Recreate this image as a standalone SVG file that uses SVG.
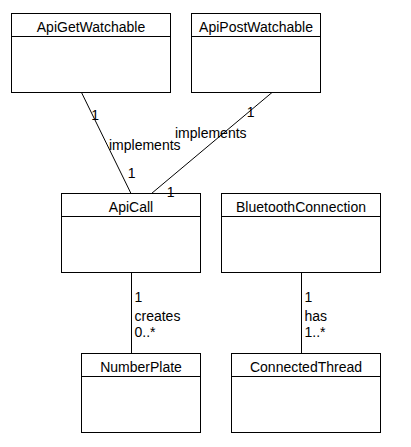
<svg xmlns="http://www.w3.org/2000/svg" width="411" height="447" viewBox="0 0 411 447">
<style>
.box{fill:#fff;stroke:#000;stroke-width:1}
.t{font-family:"Liberation Sans",Arial,sans-serif;font-size:14px;fill:#000}
.c{text-anchor:middle}
.ln{stroke:#000;stroke-width:1;fill:none}
</style>
<rect width="411" height="447" fill="#fff"/>
<g id="ApiGetWatchable">
<rect class="box" x="11.5" y="13.5" width="159" height="79"/>
<line class="ln" x1="11.5" y1="36.5" x2="170.5" y2="36.5"/>
<text class="t c" x="91" y="31.5">ApiGetWatchable</text>
</g>
<g id="ApiPostWatchable">
<rect class="box" x="191.5" y="13.5" width="129" height="79"/>
<line class="ln" x1="191.5" y1="36.5" x2="320.5" y2="36.5"/>
<text class="t c" x="256" y="31.5">ApiPostWatchable</text>
</g>
<g id="ApiCall">
<rect class="box" x="61.5" y="193.5" width="139" height="79"/>
<line class="ln" x1="61.5" y1="216.5" x2="200.5" y2="216.5"/>
<text class="t c" x="131" y="211.5">ApiCall</text>
</g>
<g id="BluetoothConnection">
<rect class="box" x="221.5" y="193.5" width="159" height="79"/>
<line class="ln" x1="221.5" y1="216.5" x2="380.5" y2="216.5"/>
<text class="t c" x="301" y="211.5">BluetoothConnection</text>
</g>
<g id="NumberPlate">
<rect class="box" x="81.5" y="353.5" width="119" height="79"/>
<line class="ln" x1="81.5" y1="376.5" x2="200.5" y2="376.5"/>
<text class="t c" x="141" y="371.5">NumberPlate</text>
</g>
<g id="ConnectedThread">
<rect class="box" x="231.5" y="353.5" width="149" height="79"/>
<line class="ln" x1="231.5" y1="376.5" x2="380.5" y2="376.5"/>
<text class="t c" x="306" y="371.5">ConnectedThread</text>
</g>
<g id="connectors">
<line class="ln" x1="81.5" y1="92.5" x2="131" y2="193.5"/>
<line class="ln" x1="272" y1="92.5" x2="151.5" y2="193.5"/>
<line class="ln" x1="131.5" y1="272.5" x2="131.5" y2="353.5"/>
<line class="ln" x1="301.5" y1="272.5" x2="301.5" y2="353.5"/>
<text class="t" x="91.2" y="119.5">1</text>
<text class="t" x="109" y="150">implements</text>
<text class="t" x="127.8" y="178.3">1</text>
<text class="t" x="246.8" y="116.7">1</text>
<text class="t" x="175" y="138.3">implements</text>
<text class="t" x="166.8" y="197">1</text>
<text class="t" x="134.5" y="302">1</text>
<text class="t" x="134.5" y="320.5">creates</text>
<text class="t" x="134.5" y="336.7">0..*</text>
<text class="t" x="304.5" y="302">1</text>
<text class="t" x="304.5" y="320.5">has</text>
<text class="t" x="304.5" y="336.7">1..*</text>
</g>
</svg>
